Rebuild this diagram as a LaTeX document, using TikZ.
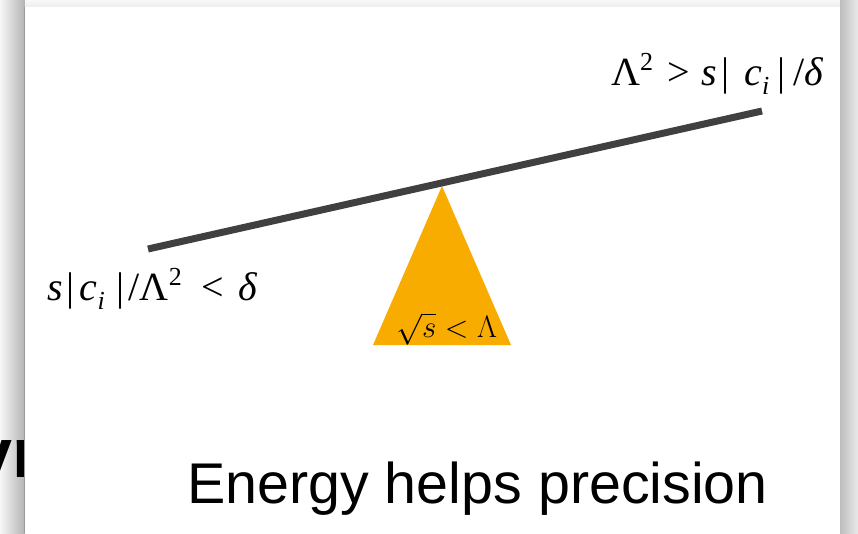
\documentclass[tikz,border=0pt]{standalone}
\usepackage{fix-cm}
\usepackage{fontspec}
\setmainfont{Liberation Serif}
\newfontfamily\slidesans{Liberation Sans}
\usetikzlibrary{positioning}
\definecolor{fulcrumorange}{HTML}{F9AC00}
\definecolor{beamgrey}{HTML}{404040}
\newcommand{\supsmall}[1]{\raisebox{15pt}{\fontsize{26}{26}\selectfont #1}}
\newcommand{\subsmall}[1]{\raisebox{-9pt}{\fontsize{26}{26}\selectfont\itshape #1}}

\begin{document}
\begin{tikzpicture}[
  x=1pt, y=-1pt,
  beam/.style={draw=beamgrey, line width=7pt},
  fulcrum/.style={fill=fulcrumorange, draw=none},
  condlabel/.style={font=\fontsize{40}{42}\selectfont, inner sep=0pt, anchor=base west},
  scalelabel/.style={font=\fontsize{31}{33}\selectfont, inner sep=0pt, anchor=base west},
  caption/.style={font=\slidesans\fontsize{57.4}{60}\selectfont, inner sep=0pt, anchor=base west},
  hiddenword/.style={font=\slidesans\bfseries\fontsize{70}{74}\selectfont, inner sep=0pt, anchor=base east}
]
\useasboundingbox (0,0) rectangle (858,533);
\shade[left color=black!3, right color=black!30] (0,0) rectangle (25,533);
\shade[top color=black!3, bottom color=black!7] (25,0) rectangle (840,7);
\shade[left color=black!26, right color=black!8] (840,0) rectangle (858,533);
\node[hiddenword] (cutword) at (40,477) {yr};
\fill[white] (25,7) rectangle (840,533);
\draw[black!40, line width=1pt] (24.5,7) -- (24.5,533);

\coordinate (apex) at (442,186);
\coordinate (baseright) at (511,345);
\coordinate (baseleft) at (373,345);
\fill[fulcrum] (apex) -- (baseright) -- (baseleft) -- cycle;

\coordinate (beamleft) at (148,249);
\coordinate (beamright) at (762,111);
\draw[beam] (beamleft) -- (beamright);

\node[condlabel] (upperbound) at (611,85) {Λ\supsmall{2}\hspace{14pt}>\hspace{12pt}\textit{s}\hspace{4pt}|\hspace{15pt}\textit{c}\subsmall{i}\hspace{8pt}|\hspace{8pt}/\textit{δ}};
\node[condlabel] (lowerbound) at (47,300) {\textit{s}\hspace{4pt}|\hspace{5pt}\textit{c}\subsmall{i}\hspace{12pt}|\hspace{4pt}/Λ\supsmall{2}\hspace{20pt}<\hspace{14pt}\textit{δ}};
\node[scalelabel] (energyscale) at (396,337) {$\sqrt{s}<\Lambda$};
\node[caption] (slidetitle) at (187,503) {Energy helps precision};
\end{tikzpicture}
\end{document}
